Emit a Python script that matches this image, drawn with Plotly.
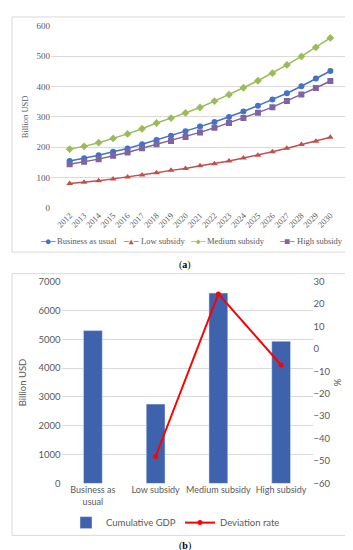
import plotly.graph_objects as go

# ---- Data: chart (a) ----
years = [str(y) for y in range(2012, 2031)]
bau = [155, 164, 174, 185, 196, 210, 224, 238, 253, 268, 283, 300, 318, 337, 357, 378, 401, 426, 451]
low = [81, 85, 90, 96, 102, 109, 116, 124, 130, 139, 146, 155, 165, 174, 185, 197, 209, 220, 233]
medium = [194, 203, 215, 229, 244, 261, 280, 296, 313, 331, 352, 373, 396, 419, 444, 471, 499, 529, 560]
high = [144, 152, 161, 172, 183, 197, 210, 221, 234, 249, 264, 280, 296, 314, 332, 352, 374, 395, 418]
series_names = ["Business as usual", "Low subsidy", "Medium subsidy", "High subsidy"]

# ---- Data: chart (b) ----
scenarios = ["Business as<br>usual", "Low subsidy", "Medium subsidy", "High subsidy"]
cum_gdp = [5300, 2750, 6600, 4930]
deviation = [None, -48, 24.5, -7.2]

GRID = "#D9D9D9"
TICK = "#595959"
SERIF = "Liberation Serif"
SANS = "Lato"

colors = ["#4472C4", "#C0504D", "#9BBB59", "#8064A2"]
symbols = ["circle", "triangle-up", "diamond", "square"]
glyphs = ["\u25CF", "\u25B2", "\u25C6", "\u25A0"]

fig = go.Figure()

for name, vals, col, sym in zip(series_names, [bau, low, medium, high], colors, symbols):
    fig.add_trace(go.Scatter(
        x=years, y=vals, name=name, mode="lines+markers",
        line=dict(color=col, width=1.5),
        marker=dict(color=col, symbol=sym, size=6),
        xaxis="x", yaxis="y", showlegend=False,
    ))

fig.add_trace(go.Bar(
    x=scenarios, y=cum_gdp, name="Cumulative GDP",
    marker=dict(color="#3F62AD"), xaxis="x2", yaxis="y2", legend="legend",
))
fig.add_trace(go.Scatter(
    x=scenarios, y=deviation, name="Deviation rate", mode="lines+markers",
    line=dict(color="#FF0000", width=2), marker=dict(color="#FF0000", size=5),
    xaxis="x2", yaxis="y3", legend="legend2", connectgaps=False,
))

W, H = 353, 550
def px(x):
    return x / W
def py(y):
    return 1 - y / H

annotations = [
    dict(text="(<b>a</b>)", x=0.5, y=py(256), xref="paper", yref="paper", showarrow=False,
         font=dict(family=SERIF, size=10, color="black"), xanchor="center", yanchor="middle"),
    dict(text="(<b>b</b>)", x=0.5, y=py(543), xref="paper", yref="paper", showarrow=False,
         font=dict(family=SERIF, size=10, color="black"), xanchor="center", yanchor="middle"),
]

# legend for chart (a), built from the series names and colours
sym_centers = [40, 123, 190, 279]
text_starts = [47, 131, 197, 287]
for name, col, g, sc, ts in zip(series_names, colors, glyphs, sym_centers, text_starts):
    annotations.append(dict(
        text="\u2500" + g + "\u2500", x=px(sc), y=py(232), xref="paper", yref="paper",
        showarrow=False, xanchor="center", yanchor="middle",
        font=dict(family="DejaVu Sans Mono", size=8, color=col)))
    annotations.append(dict(
        text=name, x=px(ts), y=py(232), xref="paper", yref="paper",
        showarrow=False, xanchor="left", yanchor="middle",
        font=dict(family=SERIF, size=8.5, color=TICK)))

fig.update_layout(
    width=W, height=H,
    margin=dict(l=0, r=0, t=0, b=0),
    paper_bgcolor="white", plot_bgcolor="white",
    showlegend=True,
    bargap=0.7,
    xaxis=dict(domain=[px(43), px(341)], type="category", showgrid=False,
               tickangle=-45, tickfont=dict(family=SERIF, size=8.5, color=TICK),
               ticks="", showline=False, anchor="y"),
    yaxis=dict(domain=[py(198), py(12)], range=[0, 600], dtick=100,
               gridcolor=GRID, zeroline=False, showline=False, anchor="x",
               tickfont=dict(family=SERIF, size=9, color=TICK),
               title=dict(text="Billion USD", font=dict(family=SERIF, size=8.5, color=TICK), standoff=6)),
    xaxis2=dict(domain=[px(53.5), px(304.5)], type="category", showgrid=False,
                ticks="", showline=False, anchor="y2", tickangle=0,
                tickfont=dict(family=SANS, size=9, color=TICK)),
    yaxis2=dict(domain=[py(479), py(273)], range=[0, 7000], dtick=1000,
                gridcolor=GRID, zeroline=False, showline=False, anchor="x2",
                tickfont=dict(family=SANS, size=9.5, color=TICK),
                title=dict(text="Billion USD", font=dict(family=SANS, size=9.5, color=TICK), standoff=10)),
    yaxis3=dict(overlaying="y2", side="right", range=[-60, 30], dtick=10,
                showgrid=False, zeroline=False, showline=False, anchor="x2",
                tickfont=dict(family=SANS, size=9.5, color=TICK),
                title=dict(text="%", font=dict(family=SANS, size=9.5, color=TICK), standoff=4)),
    legend=dict(orientation="h", x=px(58), xanchor="left", y=py(519), yanchor="middle",
                font=dict(family=SANS, size=9.5, color=TICK), itemwidth=30,
                bgcolor="rgba(0,0,0,0)"),
    legend2=dict(orientation="h", x=px(172), xanchor="left", y=py(519), yanchor="middle",
                 font=dict(family=SANS, size=9.5, color=TICK), itemwidth=30,
                 bgcolor="rgba(0,0,0,0)"),
    shapes=[
        dict(type="rect", xref="paper", yref="paper", x0=px(4), x1=px(349), y0=py(243), y1=py(3),
             line=dict(color=GRID, width=1), fillcolor="rgba(0,0,0,0)", layer="below"),
        dict(type="rect", xref="paper", yref="paper", x0=px(4), x1=px(349), y0=py(532), y1=py(265),
             line=dict(color=GRID, width=1), fillcolor="rgba(0,0,0,0)", layer="below"),
    ],
    annotations=annotations,
)

fig.write_html("out.html")
